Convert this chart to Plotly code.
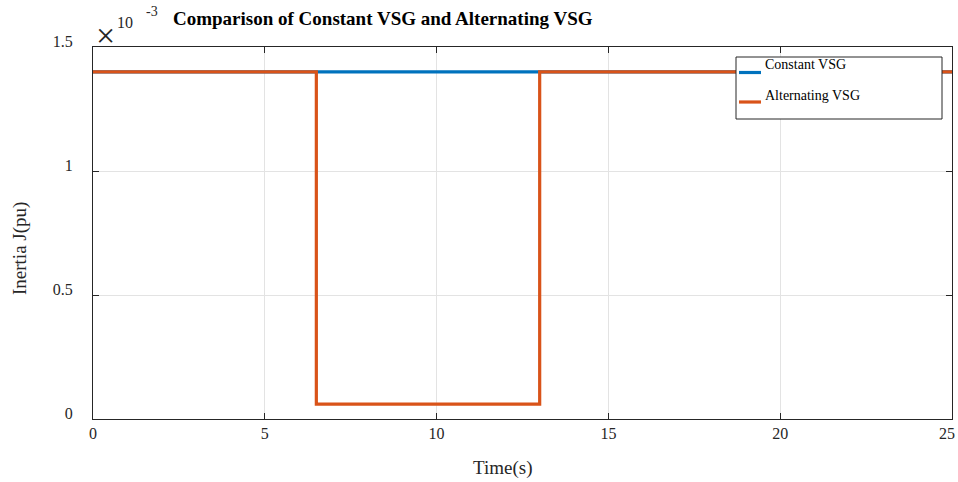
import plotly.graph_objects as go

# Inertia profiles (values in units of 1e-3 pu)
time_constant = [0, 25]
inertia_constant = [1.4, 1.4]

time_alternating = [0, 6.5, 13, 25]
inertia_alternating = [1.4, 0.06, 1.4, 1.4]

x_ticks = [0, 5, 10, 15, 20, 25]
y_ticks = [0, 0.5, 1, 1.5]
y_tick_text = ["0", "0.5", "1", "1.5"]

series_names = ["Constant VSG", "Alternating VSG"]

FONT = "Liberation Serif"
BLUE = "#0072BD"
ORANGE = "#D95319"
AX = "#262626"

fig = go.Figure()
fig.add_trace(go.Scatter(
    x=time_constant, y=inertia_constant, mode="lines", name=series_names[0],
    line=dict(color=BLUE, width=3.2, shape="hv"), showlegend=False,
))
fig.add_trace(go.Scatter(
    x=time_alternating, y=inertia_alternating, mode="lines", name=series_names[1],
    line=dict(color=ORANGE, width=3.2, shape="hv"), showlegend=False,
))

axis_common = dict(
    showline=True, linecolor=AX, linewidth=1, mirror="ticks",
    ticks="inside", ticklen=6, tickcolor=AX,
    showgrid=True, gridcolor="#e3e3e3", gridwidth=1, zeroline=False,
    tickfont=dict(family=FONT, size=16, color=AX),
    ticklabeloverflow="allow", automargin=False,
)

# The last x label sits at the right edge, so it is drawn as an annotation nudged inward
x_tick_text = [str(v) for v in x_ticks[:-1]] + [""]

fig.update_layout(
    width=958, height=482,
    margin=dict(l=93, r=6, t=47, b=63, autoexpand=False),
    paper_bgcolor="white", plot_bgcolor="white",
    font=dict(family=FONT, size=16, color=AX),
    showlegend=False,
    xaxis=dict(range=[0, 25], tickvals=x_ticks, ticktext=x_tick_text,
               ticklabelstandoff=0, **axis_common),
    yaxis=dict(range=[0, 1.5], tickvals=y_ticks, ticktext=y_tick_text,
               ticklabelstandoff=16, ticklabelshift=-6, **axis_common),
)
fig.add_annotation(text=str(x_ticks[-1]), xref="x", yref="paper", x=x_ticks[-1], y=0,
                   xshift=-5, yshift=-14, showarrow=False, xanchor="center", yanchor="middle",
                   font=dict(family=FONT, size=16, color=AX))

# Title and axis titles
fig.add_annotation(
    text="<b>Comparison of Constant VSG and Alternating VSG</b>",
    xref="paper", yref="paper", x=(383 - 93) / 859, y=1.0, yshift=29, showarrow=False,
    font=dict(family=FONT, size=19, color="black"), xanchor="center", yanchor="middle",
)
fig.add_annotation(
    text="Time(s)", xref="paper", yref="paper", x=(502 - 93) / 859, y=0, yshift=-49,
    showarrow=False, xanchor="center", yanchor="middle",
    font=dict(family=FONT, size=19, color=AX),
)
fig.add_annotation(
    text="Inertia J(pu)", xref="paper", yref="paper", x=0, xshift=-73, y=(419 - 249) / 372,
    showarrow=False, xanchor="center", yanchor="middle", textangle=-90,
    font=dict(family=FONT, size=19, color=AX),
)

# Axis exponent marker
fig.add_annotation(text="\u00d7", xref="paper", yref="paper", x=0, xshift=12, y=1, yshift=12,
                   showarrow=False, xanchor="center", yanchor="middle",
                   font=dict(family=FONT, size=34, color=AX))
fig.add_annotation(text="10", xref="paper", yref="paper", x=0, xshift=32, y=1, yshift=25,
                   showarrow=False, xanchor="center", yanchor="middle",
                   font=dict(family=FONT, size=16, color=AX))
fig.add_annotation(text="-3", xref="paper", yref="paper", x=0, xshift=59, y=1, yshift=36,
                   showarrow=False, xanchor="center", yanchor="middle",
                   font=dict(family=FONT, size=14, color=AX))

# Legend box
def px_x(px):
    return (px - 93) / 859

def px_y(py):
    return (419 - py) / 372

fig.add_shape(type="rect", xref="paper", yref="paper",
              x0=px_x(736), x1=px_x(942), y0=px_y(119), y1=px_y(57),
              line=dict(color=AX, width=1), fillcolor="white", layer="above")
legend_rows = [(series_names[0], BLUE, 72.5, 65), (series_names[1], ORANGE, 102, 95)]
for name, color, line_y, text_y in legend_rows:
    fig.add_shape(type="line", xref="paper", yref="paper",
                  x0=px_x(739), x1=px_x(761), y0=px_y(line_y), y1=px_y(line_y),
                  line=dict(color=color, width=3.2), layer="above")
    fig.add_annotation(text=name, xref="paper", yref="paper", x=px_x(763), y=px_y(text_y),
                       showarrow=False, xanchor="left", yanchor="middle",
                       font=dict(family=FONT, size=14, color="black"))

fig.write_html("out.html")
